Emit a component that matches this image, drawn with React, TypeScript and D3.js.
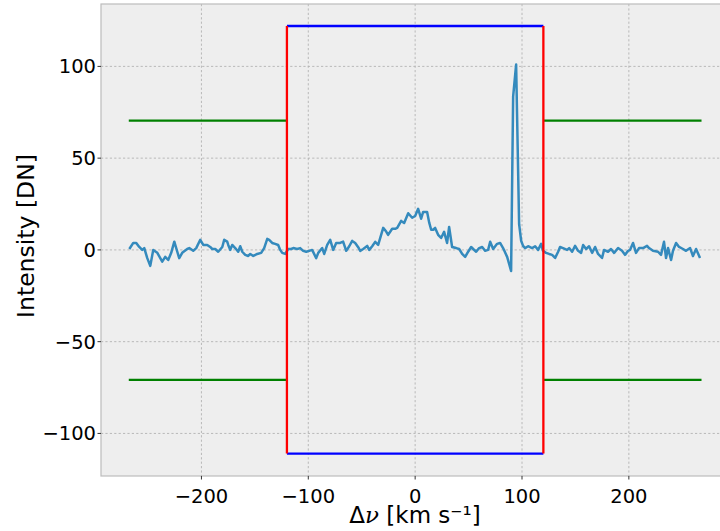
import React from "react";
import * as d3 from "d3";

// Spectral profile: Doppler velocity (km/s) and measured intensity (DN)
const velocity: number[] = [
  -267.5, -263.8, -261.0, -258.2, -255.4, -253.5, -250.7, -247.9, -245.1, -241.3,
  -236.7, -233.9, -231.1, -228.3, -225.4, -222.6, -220.8, -218.0, -213.3, -211.4,
  -207.7, -204.9, -201.1, -198.3, -194.6, -191.8, -189.9, -187.1, -184.3, -180.5,
  -178.7, -175.9, -174.9, -173.1, -171.2, -168.4, -165.6, -163.7, -161.8, -159.0,
  -156.2, -154.3, -151.5, -147.8, -144.1, -141.3, -138.4, -136.6, -133.8, -131.0,
  -128.2, -126.3, -124.4, -121.6, -118.8, -116.0, -114.1, -110.4, -107.6, -104.8,
  -102.0, -99.2, -96.4, -92.6, -90.7, -87.0, -85.1, -82.3, -79.5, -76.7,
  -73.9, -70.2, -67.4, -64.5, -61.7, -58.9, -56.1, -53.3, -51.4, -48.6,
  -44.9, -43.0, -40.2, -37.4, -34.6, -29.9, -27.1, -25.3, -21.5, -18.7,
  -16.8, -13.1, -10.3, -6.5, -2.8, 0.0, 2.8, 5.6, 7.5, 11.2,
  13.1, 15.0, 16.8, 18.7, 21.5, 24.3, 27.1, 29.9, 31.8, 34.6,
  38.4, 41.2, 44.0, 46.8, 49.6, 52.4, 54.3, 57.1, 59.9, 62.7,
  65.5, 68.3, 70.2, 73.0, 76.7, 79.5, 82.3, 86.1, 89.8, 91.7,
  94.5, 97.3, 99.2, 101.0, 102.9, 105.7, 109.4, 112.3, 115.1, 117.9,
  119.7, 122.5, 125.4, 128.2, 131.0, 133.8, 135.6, 138.4, 142.2, 144.1,
  146.9, 149.7, 152.5, 155.3, 157.2, 160.0, 162.8, 165.6, 168.4, 171.2,
  174.9, 176.8, 180.5, 183.3, 186.2, 189.9, 193.6, 196.4, 199.3, 201.1,
  203.9, 206.7, 209.5, 213.3, 217.0, 218.9, 222.6, 227.3, 230.1, 232.9,
  234.8, 236.7, 239.5, 241.3, 244.2, 247.0, 250.7, 253.5, 257.3, 260.0,
  262.9, 266.6,
];

const intensity: number[] = [
  0.5, 3.8, 3.8, 1.6, 0, 1, -4.5, -8.7, 0, -1.6,
  -6.4, -3.8, -5.5, -1.6, 4.5, -1, -4.5, -1.6, 0.5, 1,
  -0.5, 1, 5.5, 2.7, 2.7, 1.6, 0.5, 0.5, -1, 1.6,
  5.5, 4.5, 2.7, 0, 2.7, 1, -1, 2, -1, -2.7,
  -3.3, -2.2, -3.3, -2.2, -1.6, 1, 6, 5.5, 3.8, 3.3,
  2.7, 0, -1.6, -2.2, 0.5, 0.5, 1, 0.5, 1, -0.5,
  -1, -0.5, 0, -4.5, -1.6, 1, -2.2, 2.7, 5.5, 0,
  3.8, 3.8, 4.5, -0.5, 2, 4.9, 3.8, 1.5, -0.5, 0.5,
  2.2, 0, 2, 4.4, 2.7, 12, 10, 8.2, 11.5, 11.5,
  12, 15.8, 14.7, 20, 17.5, 18.5, 22.4, 17, 20.7, 20.7,
  15, 11, 11, 12, 8.2, 6.5, 9.8, 3.8, 12.5, 1.6,
  1, 0.5, -2.2, -3.8, -1, 1.6, 0.5, -1, 1, 1.6,
  -0.5, 0, 4.4, 0.5, 3.3, 3.8, 1, -3.8, -11.5, 83.5,
  101, 14, 5, 2.2, 1, 2, 1, 2, 0, 3.3,
  -0.5, -1.6, -2.2, -2.7, -4.4, -1, 1.6, 1, 0, 1,
  -1, 2.2, -0.5, -1.6, 2.7, 0.5, 2, -1.6, 1.6, -2.2,
  -4.4, 0, -1, 0.5, -1.6, 1, -0.5, -2.7, -0.5, 0,
  3.8, -1.6, 1, 1, 2.2, 1, -0.5, -1, -2.7, 4.4,
  -4.4, 1, -5.5, -0.5, 3.8, 1.6, 0.5, -0.5, 1, -3.3,
  0.5, -4.4,
];

// Integration window (red / blue box) and noise thresholds (green)
const windowEdges: number[] = [-120, 120];
const windowTop = 122;
const windowBottom = -111;
const thresholdLevels: number[] = [70.5, -70.8];
const thresholdSpans: [number, number][] = [
  [-268, -120],
  [120, 268],
];

const xTicks: number[] = [-200, -100, 0, 100, 200];
const yTicks: number[] = [-100, -50, 0, 50, 100];

const W = 720;
const H = 531;
const plot = { left: 101, top: 4, right: 729.3, bottom: 476 };

const font = "'DejaVu Sans', sans-serif";

export default function App() {
  const x = d3.scaleLinear().domain([-294, 294]).range([plot.left, plot.right]);
  const y = d3.scaleLinear().domain([-123.2, 134]).range([plot.bottom, plot.top]);

  const pts = velocity.map((v, i) => [v, intensity[i]] as [number, number]);
  const line = d3
    .line<[number, number]>()
    .x((d) => x(d[0]))
    .y((d) => y(d[1]));

  const fmt = (t: number) => (t < 0 ? "\u2212" + Math.abs(t) : String(t));

  return (
    <div style={{ position: "absolute", left: 0, top: 0 }}>
      <svg width={W} height={H} style={{ display: "block", background: "#fff" }}>
        <defs>
          <clipPath id="plotClip">
            <rect x={plot.left} y={plot.top} width={plot.right - plot.left} height={plot.bottom - plot.top} />
          </clipPath>
        </defs>
        <rect
          x={plot.left}
          y={plot.top}
          width={plot.right - plot.left}
          height={plot.bottom - plot.top}
          fill="#eeeeee"
        />
        {/* grid */}
        <g stroke="#b2b2b2" strokeWidth={0.9} strokeDasharray="2.2,2.2">
          {xTicks.map((t) => (
            <line key={"gx" + t} x1={x(t)} x2={x(t)} y1={plot.top} y2={plot.bottom} />
          ))}
          {yTicks.map((t) => (
            <line key={"gy" + t} x1={plot.left} x2={plot.right} y1={y(t)} y2={y(t)} />
          ))}
        </g>

        <g clipPath="url(#plotClip)" fill="none" strokeWidth={2.3}>
          <path d={line(pts) || ""} stroke="#348ABD" strokeWidth={2.5} strokeLinejoin="round" />
          {thresholdSpans.map((s, i) =>
            thresholdLevels.map((lv, j) => (
              <line
                key={"th" + i + "-" + j}
                x1={x(s[0])}
                x2={x(s[1])}
                y1={y(lv)}
                y2={y(lv)}
                stroke="#008000"
              />
            ))
          )}
          <line x1={x(windowEdges[0])} x2={x(windowEdges[1])} y1={y(windowTop)} y2={y(windowTop)} stroke="#0000ff" />
          <line
            x1={x(windowEdges[0])}
            x2={x(windowEdges[1])}
            y1={y(windowBottom)}
            y2={y(windowBottom)}
            stroke="#0000ff"
          />
          {windowEdges.map((e) => (
            <line key={"we" + e} x1={x(e)} x2={x(e)} y1={y(windowBottom)} y2={y(windowTop)} stroke="#ff0000" />
          ))}
        </g>

        {/* frame */}
        <rect
          x={plot.left}
          y={plot.top}
          width={plot.right - plot.left}
          height={plot.bottom - plot.top}
          fill="none"
          stroke="#bcbcbc"
          strokeWidth={1.2}
        />

        {/* ticks */}
        <g stroke="#333" strokeWidth={1}>
          {xTicks.map((t) => (
            <line key={"tx" + t} x1={x(t)} x2={x(t)} y1={plot.bottom} y2={plot.bottom + 3.5} />
          ))}
          {yTicks.map((t) => (
            <line key={"ty" + t} x1={plot.left - 3.5} x2={plot.left} y1={y(t)} y2={y(t)} />
          ))}
        </g>

        <g fontFamily={font} fontSize={19.5} fill="#000">
          {xTicks.map((t) => (
            <text key={"lx" + t} x={x(t)} y={plot.bottom + 27} textAnchor="middle">
              {fmt(t)}
            </text>
          ))}
          {yTicks.map((t) => (
            <text key={"ly" + t} x={plot.left - 5} y={y(t)} dy="0.36em" textAnchor="end">
              {fmt(t)}
            </text>
          ))}
        </g>

        <text
          x={415}
          y={522.5}
          textAnchor="middle"
          fontFamily={font}
          fontSize={23}
          fill="#000"
        >
          {"\u0394"}
          <tspan fontStyle="italic" fontFamily="'DejaVu Serif', serif">{"\u03bd"}</tspan>
          {" [km s\u207b\u00b9]"}
        </text>
        <text
          transform={`translate(33.5, 236) rotate(-90)`}
          textAnchor="middle"
          fontFamily={font}
          fontSize={23.5}
          fill="#000"
        >
          Intensity [DN]
        </text>
      </svg>
    </div>
  );
}
